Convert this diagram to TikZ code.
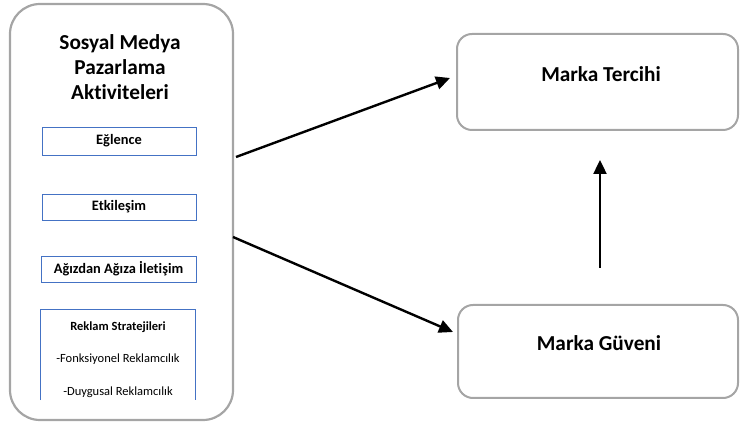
\documentclass[tikz,border=0pt]{standalone}
\usepackage{fontspec}
\setmainfont{Carlito}[Ligatures=NoCommon]
\usetikzlibrary{arrows.meta}
\definecolor{boxgray}{HTML}{A5A5A5}
\definecolor{subblue}{HTML}{4472C4}
\tikzset{
  outer/.style={draw=boxgray, line width=2.2pt, rounded corners=30pt},
  mbox/.style={draw=boxgray, line width=2pt, rounded corners=15pt},
  mtext/.style={font=\bfseries\fontsize{21.3}{25}\selectfont},
  subbox/.style={draw=subblue, line width=0.9pt, font=\bfseries\fontsize{14.4}{16}\selectfont},
  subtext/.style={font=\fontsize{12.5}{14}\selectfont},
  conn/.style={line width=2.4pt, -{Triangle[length=14pt,width=13pt]}},
}
\begin{document}
\begin{tikzpicture}[x=1pt,y=-1pt]
\useasboundingbox (0,0) rectangle (740,427);
% outer box
\node[outer, minimum width=223pt, minimum height=416pt] (outer) at (121.5,212) {};
\node (title) at (120,67) [align=center, font=\bfseries\fontsize{21.3}{25}\selectfont] {Sosyal Medya\\Pazarlama\\Aktiviteleri};
% sub boxes
\node[subbox, minimum width=154pt, minimum height=28pt] (eg) at (119,141) {Eğlence};
\node[subbox, minimum width=154pt, minimum height=26pt] (et) at (119,207) {Etkileşim};
\node[subbox, minimum width=155pt, minimum height=26pt] (ag) at (118.5,269) {Ağızdan Ağıza İletişim};
\node[minimum width=154pt, minimum height=90pt, inner sep=0pt] (rk) at (118,355) {};
\draw[draw=subblue, line width=0.9pt] (rk.south west) -- (rk.north west) -- (rk.north east) -- (rk.south east);
\node[subtext, font=\bfseries\fontsize{12.5}{14}\selectfont] (rkt) at (118,327) {Reklam Stratejileri};
\node[subtext] (rk1) at (118,359) {-Fonksiyonel Reklamcılık};
\node[subtext] (rk2) at (118,392) {-Duygusal Reklamcılık};
% right boxes
\node[mbox, minimum width=281pt, minimum height=96pt] (mt) at (597.5,82) {};
\node[mtext] (mtt) at (601,74) {Marka Tercihi};
\node[mbox, minimum width=280pt, minimum height=93pt] (mg) at (598,351.5) {};
\node[mtext] (mgt) at (599,343) {Marka Güveni};
% connectors
\coordinate (a1s) at (236,157);
\coordinate (a1e) at (450,78);
\coordinate (a2s) at (233,237);
\coordinate (a2e) at (453,332);
\coordinate (a3s) at (600,268);
\coordinate (a3e) at (600,160);
\draw[conn] (a1s) -- (a1e);
\draw[conn] (a2s) -- (a2e);
\draw[conn] (a3s) -- (a3e);
\end{tikzpicture}
\end{document}
